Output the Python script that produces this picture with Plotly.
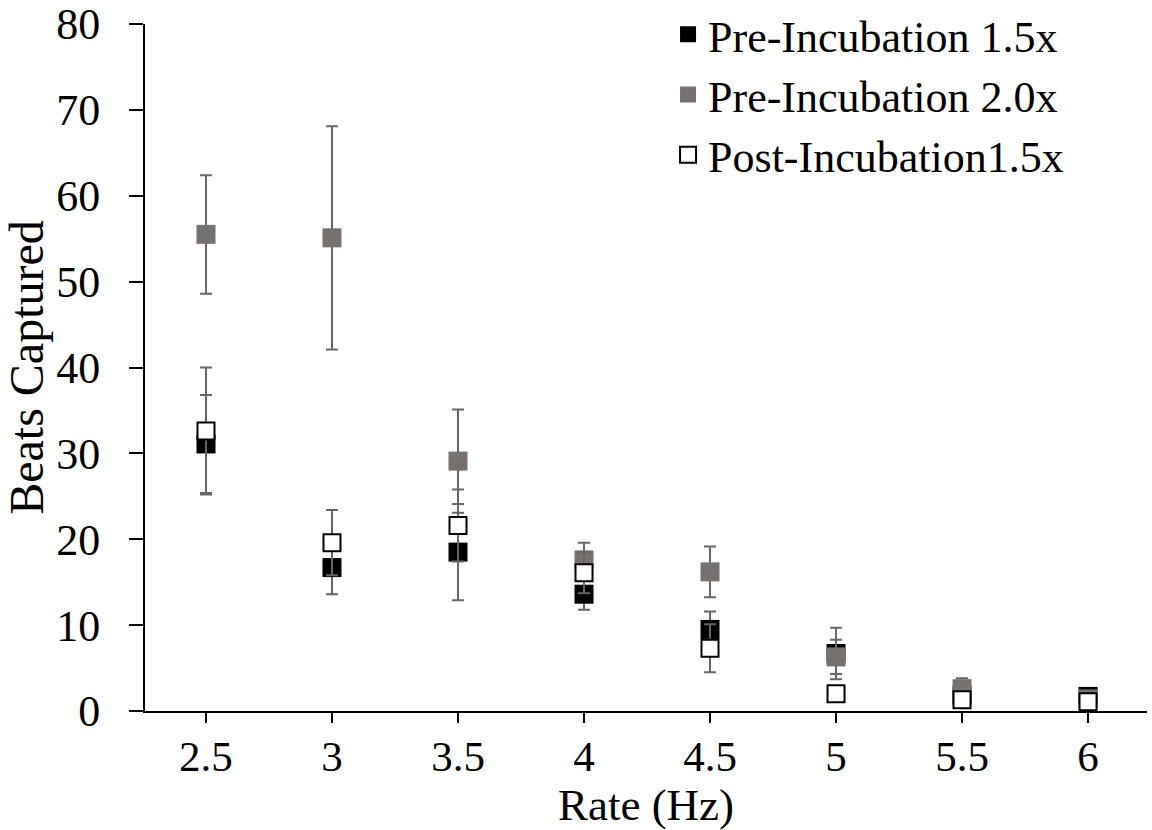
import plotly.graph_objects as go

# Stimulation rates (Hz)
rates = [2.5, 3, 3.5, 4, 4.5, 5, 5.5, 6]
rate_labels = ["2.5", "3", "3.5", "4", "4.5", "5", "5.5", "6"]

# Mean beats captured and error (±) per condition
pre_15 = [31.1, 16.7, 18.5, 13.6, 9.5, 6.7, 1.8, 1.7]
pre_15_err = [5.7, 3.1, 5.6, 1.8, 2.1, 3.0, 0.4, 0.3]

pre_20 = [55.5, 55.1, 29.1, 17.6, 16.2, 6.3, 2.6, 1.4]
pre_20_err = [6.9, 13.0, 6.0, 2.0, 2.95, 2.0, 1.2, 0.3]

post_15 = [32.6, 19.6, 21.6, 16.1, 7.3, 2.0, 1.3, 1.07]
post_15_err = [7.4, 3.8, 4.2, 2.4, 2.8, 0.5, 0.4, 0.3]

FONT = "Liberation Serif, Times New Roman, serif"
ERR_COLOR = "#666666"

fig = go.Figure()

fig.add_trace(go.Scatter(
    x=rates, y=pre_15, mode="markers", name="Pre-Incubation 1.5x",
    marker=dict(symbol="square", size=19, color="black", line=dict(width=0)),
    error_y=dict(type="data", array=pre_15_err, color=ERR_COLOR, thickness=2, width=6),
))
fig.add_trace(go.Scatter(
    x=rates, y=pre_20, mode="markers", name="Pre-Incubation 2.0x",
    marker=dict(symbol="square", size=19, color="#767171", line=dict(width=0)),
    error_y=dict(type="data", array=pre_20_err, color=ERR_COLOR, thickness=2, width=6),
))
fig.add_trace(go.Scatter(
    x=rates, y=post_15, mode="markers", name="Post-Incubation1.5x",
    marker=dict(symbol="square", size=17, color="white", line=dict(width=2, color="black")),
    error_y=dict(type="data", array=post_15_err, color=ERR_COLOR, thickness=2, width=6),
))

fig.update_layout(
    width=1152, height=830,
    margin=dict(l=145, r=5, t=24, b=119, autoexpand=False),
    paper_bgcolor="white", plot_bgcolor="white",
    font=dict(family=FONT, size=44, color="black"),
    showlegend=True,
    legend=dict(
        xref="paper", yref="paper",
        x=0.522, y=1.036, xanchor="left", yanchor="top",
        font=dict(family=FONT, size=44, color="black"),
        bgcolor="rgba(0,0,0,0)", borderwidth=0,
    ),
    xaxis=dict(
        range=[2.258, 6.234],
        tickvals=rates, ticktext=rate_labels,
        showline=True, linecolor="black", linewidth=2,
        ticks="outside", ticklen=10, tickwidth=2, tickcolor="black",
        showgrid=False, zeroline=False,
        ticklabelstandoff=-4,
        tickfont=dict(family=FONT, size=43),
        title=dict(text="Rate (Hz)", font=dict(family=FONT, size=45), standoff=0),
    ),
    yaxis=dict(
        range=[0, 80], dtick=10, tick0=0,
        showline=True, linecolor="black", linewidth=2,
        ticks="outside", ticklen=14, tickwidth=2, tickcolor="black",
        showgrid=False, zeroline=False,
        ticklabelstandoff=20,
        tickfont=dict(family=FONT, size=44),
        title=dict(text="Beats Captured", font=dict(family=FONT, size=48), standoff=0),
    ),
)

fig.write_html("out.html")
